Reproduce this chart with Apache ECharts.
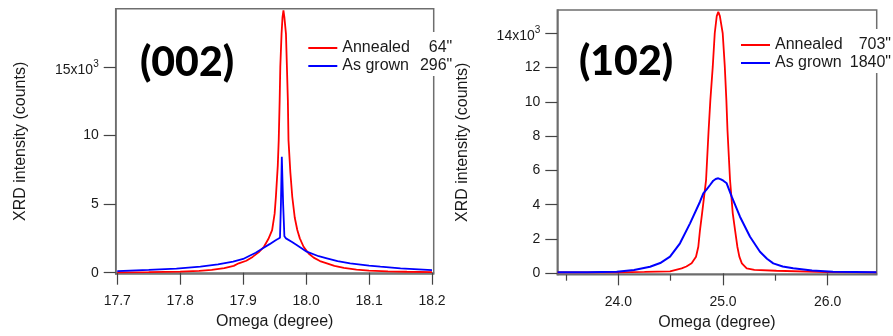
<!DOCTYPE html>
<html>
<head>
<meta charset="utf-8">
<script src="https://cdn.jsdelivr.net/npm/echarts@6/dist/echarts.min.js"></script>
<style>
html,body{margin:0;padding:0;background:#fff;}
#chart{width:893px;height:336px;}
</style>
</head>
<body>
<div id="chart"></div>
<script>
// ---------- DATA ----------
const seriesNames = ['Annealed', 'As grown'];
const fwhm002 = ['64"', '296"'];
const fwhm102 = ['703"', '1840"'];

// (002) rocking curves
const omega002Annealed = [17.700,17.750,17.800,17.830,17.850,17.870,17.885,17.893,17.905,17.915,17.925,17.933,17.940,17.946,17.950,17.952,17.955,17.9565,17.958,17.959,17.961,17.9625,17.964,17.9655,17.968,17.9695,17.971,17.972,17.975,17.978,17.982,17.986,17.990,17.996,18.004,18.012,18.022,18.033,18.045,18.060,18.080,18.100,18.130,18.160,18.200];
const counts002Annealed = [30,45,75,130,200,330,500,684,870,1150,1500,1890,2450,3108,4300,5531,7800,9658,12570,15000,17400,18600,19100,18600,17400,15000,12570,9658,7300,5531,4000,3108,2500,1890,1400,1100,850,684,500,350,230,150,100,70,40];
const omega002Grown = [17.700,17.750,17.794,17.832,17.860,17.884,17.900,17.911,17.920,17.932,17.942,17.951,17.955,17.9585,17.960,17.9614,17.9635,17.9655,17.968,17.970,17.977,17.985,18.001,18.020,18.033,18.050,18.070,18.100,18.118,18.150,18.200];
const counts002Grown = [120,200,300,440,600,800,1000,1250,1450,1800,2080,2350,2450,2550,5000,8440,5000,2650,2500,2450,2250,2015,1530,1200,1050,850,684,510,437,320,190];

// (102) rocking curves
const omega102Annealed = [23.420,23.700,24.000,24.250,24.494,24.605,24.650,24.700,24.742,24.764,24.780,24.800,24.838,24.862,24.879,24.902,24.921,24.940,24.955,24.970,24.997,25.017,25.032,25.043,25.067,25.093,25.115,25.137,25.156,25.180,25.226,25.300,25.510,25.990,26.465];
const counts102Annealed = [50,55,60,80,115,290,400,583,970,1550,2525,3500,5440,8300,10100,12050,14000,15000,15250,15000,14000,12050,10100,8300,5440,3500,2525,1550,970,583,290,200,150,75,60];
const omega102Grown = [23.420,23.700,23.985,24.150,24.303,24.400,24.494,24.589,24.685,24.780,24.812,24.844,24.876,24.907,24.930,24.955,24.980,25.003,25.035,25.083,25.162,25.258,25.353,25.420,25.480,25.570,25.670,25.850,26.050,26.465];
const counts102Grown = [60,70,95,200,385,600,970,1750,2915,4175,4665,4900,5150,5400,5500,5540,5480,5400,5250,4470,3300,2135,1260,850,583,400,290,170,95,60];

// tick values
const xTicks002 = [17.7, 17.8, 17.9, 18.0, 18.1, 18.2];
const yTicks002 = [0, 5000, 10000, 15000];
const xTicks102 = [24, 25, 26];
const xMinorTicks102 = [23.5, 24.5, 25.5];
const yTicks102 = [0, 2000, 4000, 6000, 8000, 10000, 12000, 14000];

// ---------- CHART ----------
const zip = (xs, ys) => xs.map((x, i) => [x, ys[i]]);
const FONT = '"Liberation Sans", Arial, sans-serif';
const TXT = '#1a1a1a';
const AXC = '#6e6e6e';

function yLabelFmt(top) {
  return function (v) {
    if (v === top) return '{b|' + (v / 1000) + 'x10}{s|3}';
    return String(v / 1000);
  };
}
const richSup = {
  b: { fontSize: 14, fontFamily: FONT, color: TXT, padding: [6, 0, 0, 0] },
  s: { fontSize: 10, fontFamily: FONT, color: TXT, padding: [0, 0, 6, 0] }
};

function xAxisMain(gi, min, max, ticks) {
  return {
    type: 'value', gridIndex: gi, min: min, max: max,
    name: 'Omega (degree)', nameLocation: 'middle', nameGap: 40,
    nameTextStyle: { fontSize: 16, fontFamily: FONT, color: TXT },
    axisLine: { show: true, lineStyle: { color: AXC, width: 1.5 } },
    axisTick: { show: true, inside: false, length: 12, customValues: ticks, lineStyle: { color: '#444', width: 1.2 } },
    axisLabel: { show: true, margin: 20, fontSize: 14, fontFamily: FONT, color: TXT, customValues: ticks,
      formatter: v => Number(v).toFixed(1) },
    splitLine: { show: false }
  };
}
function yAxisMain(gi, min, max, ticks, gap) {
  return {
    type: 'value', gridIndex: gi, min: min, max: max,
    name: 'XRD intensity (counts)', nameLocation: 'middle', nameGap: gap,
    nameTextStyle: { fontSize: 16, fontFamily: FONT, color: TXT },
    axisLine: { show: true, lineStyle: { color: AXC, width: 1.5 } },
    axisTick: { show: true, inside: false, length: 12, customValues: ticks, lineStyle: { color: '#444', width: 1.2 } },
    axisLabel: { show: true, margin: 17, fontSize: 14, fontFamily: FONT, color: TXT, customValues: ticks,
      formatter: yLabelFmt(ticks[ticks.length - 1]), rich: richSup },
    splitLine: { show: false }
  };
}
function legendFor(left, top, vals, vw) {
  return {
    orient: 'vertical', left: left, top: top,
    data: seriesNames,
    icon: 'rect',
    backgroundColor: '#fff',
    padding: [7, 0, 1, 4],
    itemGap: 0, itemWidth: 29, itemHeight: 2,
    selectedMode: false,
    textStyle: {
      fontSize: 16, fontFamily: FONT, color: TXT, lineHeight: 18,
      rich: {
        n: { fontSize: 16, fontFamily: FONT, color: TXT, width: 70, lineHeight: 18 },
        v: { fontSize: 16, fontFamily: FONT, color: TXT, width: vw, align: 'right', lineHeight: 18 }
      }
    },
    formatter: name => '{n|' + name + '}{v|' + vals[seriesNames.indexOf(name)] + '}'
  };
}
function lineSeries(name, xi, yi, data, color, w) {
  return {
    name: name, type: 'line', xAxisIndex: xi, yAxisIndex: yi, data: data,
    symbol: 'none', showSymbol: false, smooth: false,
    lineStyle: { color: color, width: w }, itemStyle: { color: color },
    emphasis: { disabled: true }, animation: false
  };
}

const chart = echarts.init(document.getElementById('chart'), null, { renderer: 'canvas' });
chart.setOption({
  backgroundColor: '#fff',
  animation: false,
  grid: [
    { left: 115.7, top: 8.7, width: 318, height: 265.3, show: true, borderColor: AXC, borderWidth: 1.5, backgroundColor: 'transparent' },
    { left: 557.3, top: 10, width: 319.4, height: 264.7, show: true, borderColor: AXC, borderWidth: 1.5, backgroundColor: 'transparent' }
  ],
  xAxis: [
    xAxisMain(0, 17.6975, 18.2027, xTicks002),
    xAxisMain(1, 23.417, 26.468, xTicks102),
    {
      type: 'value', gridIndex: 1, min: 23.417, max: 26.468, position: 'bottom',
      axisLine: { show: false },
      axisTick: { show: true, inside: false, length: 6, customValues: xMinorTicks102, lineStyle: { color: '#444', width: 1.2 } },
      axisLabel: { show: false }, splitLine: { show: false }
    }
  ],
  yAxis: [
    yAxisMain(0, -95, 19230, yTicks002, 87),
    yAxisMain(1, -80, 15355, yTicks102, 87)
  ],
  legend: [
    legendFor(304.3, 32, fwhm002, 40),
    legendFor(737, 29, fwhm102, 46)
  ],
  series: [
    lineSeries('Annealed', 0, 0, zip(omega002Annealed, counts002Annealed), '#ff0000', 1.8),
    lineSeries('As grown', 0, 0, zip(omega002Grown, counts002Grown), '#0000ff', 1.8),
    lineSeries('Annealed', 1, 1, zip(omega102Annealed, counts102Annealed), '#ff0000', 1.8),
    lineSeries('As grown', 1, 1, zip(omega102Grown, counts102Grown), '#0000ff', 2)
  ],
  graphic: [
    { type: 'text', x: 187, y: 63, z: 100, style: { text: '(002)', font: '900 41px Lato, "Open Sans", sans-serif', fill: '#000', align: 'center', verticalAlign: 'middle' } },
    { type: 'text', x: 626, y: 62, z: 100, style: { text: '(102)', font: '900 41px Lato, "Open Sans", sans-serif', fill: '#000', align: 'center', verticalAlign: 'middle' } }
  ]
});
</script>
</body>
</html>
